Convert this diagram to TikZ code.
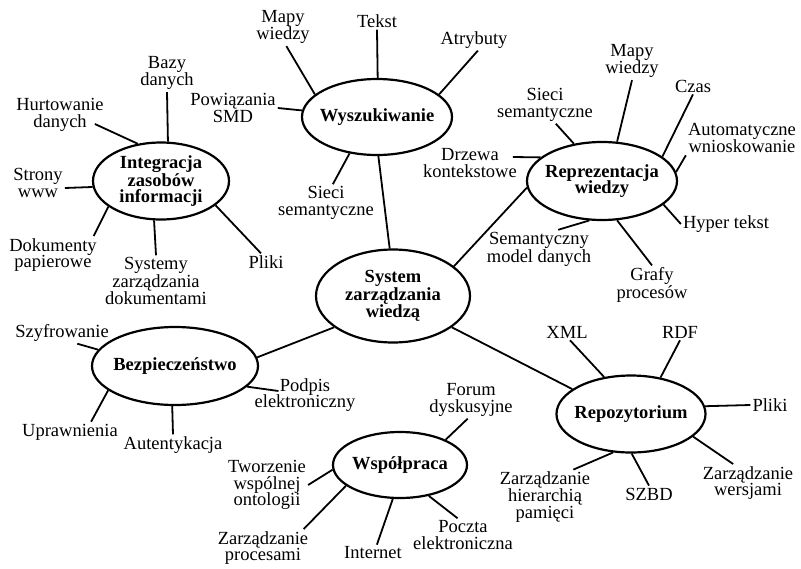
\documentclass[tikz,border=0pt]{standalone}
\usepackage{fontspec}
\setmainfont{Liberation Serif}
\usepackage{tikz}
\usetikzlibrary{shapes.geometric}
\newcommand{\mapfont}{\fontsize{18.5}{16.8}\selectfont}
\tikzstyle{topic} = [ellipse, draw=black, line width=2.2pt, font=\mapfont\bfseries, align=center, inner xsep=-8pt, inner ysep=0pt]
\tikzstyle{leaf} = [font=\mapfont, align=center, inner sep=2pt]
\tikzstyle{link} = [line width=1.8pt]

\begin{document}
\begin{tikzpicture}[x=1pt,y=-1pt]
	\useasboundingbox (0,0) rectangle (801,568);
	% glowne wezly
	\node[topic, minimum width=154pt, minimum height=93pt] (sys) at (393,296) {System\\zarządzania\\wiedzą};
	\node[topic, minimum width=150pt, minimum height=76pt] (wysz) at (377,117) {Wyszukiwanie};
	\node[topic, minimum width=136pt, minimum height=77pt] (integr) at (161,181) {Integracja\\zasobów\\informacji};
	\node[topic, minimum width=150pt, minimum height=78pt] (repr) at (602,181) {Reprezentacja\\wiedzy};
	\node[topic, minimum width=166pt, minimum height=78pt] (bezp) at (175,366) {Bezpieczeństwo};
	\node[topic, minimum width=149pt, minimum height=77pt] (repo) at (631,414) {Repozytorium};
	\node[topic, minimum width=134pt, minimum height=66pt] (wsp) at (400,465) {Współpraca};
	\draw[link] (sys.94) -- (wysz.-88);
	\draw[link] (sys.26) -- (repr.185);
	\draw[link] (sys.208) -- (bezp.6);
	\draw[link] (sys.-28) -- (repo.157);

	% wyszukiwanie
	\node[leaf] (mapyW) at (283,27) {Mapy\\wiedzy};
	\node[leaf] (tekst) at (377,21) {Tekst};
	\node[leaf] (atryb) at (474,40) {Atrybuty};
	\node[leaf] (powiaz) at (233,108) {Powiązania\\SMD};
	\node[leaf] (sieciW) at (326,203) {Sieci\\semantyczne};
	\foreach \a/\b in {wysz.160/mapyW.-80, wysz.89/tekst.south, wysz.20/atryb.-70, wysz.175/powiaz.east, wysz.233/sieciW.70}
		\draw[link] (\a) -- (\b);

	% integracja
	\node[leaf] (bazy) at (167,73) {Bazy\\danych};
	\node[leaf] (hurt) at (60,115) {Hurtowanie\\danych};
	\node[leaf] (strony) at (38,183) {Strony\\www};
	\node[leaf] (dokum) at (53,255) {Dokumenty\\papierowe};
	\node[leaf] (systemy) at (156,281) {Systemy\\zarządzania\\dokumentami};
	\node[leaf] (plikiI) at (266,262) {Pliki};
	\draw[link] (integr.122) -- ([shift={(-11,9)}]hurt.east);
	\draw[link] (integr.185) -- ([shift={(0,5)}]strony.east);
	\foreach \a/\b in {integr.80/bazy.south, integr.206/dokum.25, integr.260/systemy.north, integr.336/plikiI.120}
		\draw[link] (\a) -- (\b);

	% reprezentacja
	\node[leaf] (sieciR) at (545,105) {Sieci\\semantyczne};
	\node[leaf] (mapyR) at (632,61) {Mapy\\wiedzy};
	\node[leaf] (czas) at (693,86) {Czas};
	\node[leaf] (auto) at (742,138) {Automatyczne\\wnioskowanie};
	\node[leaf] (hyper) at (726,224) {Hyper tekst};
	\node[leaf] (grafy) at (652,285) {Grafy\\procesów};
	\node[leaf] (seman) at (539,249) {Semantyczny\\model danych};
	\node[leaf] (drzewa) at (470,163) {Drzewa\\kontekstowe};
	\draw[link] (repr.159) -- ([shift={(-6,-6)}]drzewa.east);
	\foreach \a/\b in {repr.127/sieciR.-60, repr.69/mapyR.south, repr.22/czas.south, repr.7/auto.south west, repr.339/hyper.west, repr.291/grafy.north, repr.252/seman.45}
		\draw[link] (\a) -- (\b);

	% bezpieczenstwo
	\node[leaf] (szyfr) at (62,333) {Szyfrowanie};
	\node[leaf] (podpis) at (305,395) {Podpis\\elektroniczny};
	\node[leaf] (upraw) at (70,432) {Uprawnienia};
	\node[leaf] (autent) at (173,445) {Autentykacja};
	\draw[link] (bezp.344) -- ([shift={(26,-4)}]podpis.west);
	\foreach \a/\b in {bezp.168/szyfr.-35, bezp.200/upraw.26, bezp.266/autent.north}
		\draw[link] (\a) -- (\b);

	% repozytorium
	\node[leaf] (xml) at (567,332) {XML};
	\node[leaf] (rdf) at (680,332) {RDF};
	\node[leaf] (plikiR) at (770,405) {Pliki};
	\node[leaf] (wersj) at (748,483) {Zarządzanie\\wersjami};
	\node[leaf] (szbd) at (649,494) {SZBD};
	\node[leaf] (hier) at (545,497) {Zarządzanie\\hierarchią\\pamięci};
	\foreach \a/\b in {repo.126/xml.-70, repo.51/rdf.south, repo.6/plikiR.west, repo.340/wersj.128, repo.-89/szbd.north, repo.245/hier.44}
		\draw[link] (\a) -- (\b);

	% wspolpraca
	\node[leaf] (forum) at (471,400) {Forum\\dyskusyjne};
	\node[leaf] (poczta) at (463,535) {Poczta\\elektroniczna};
	\node[leaf] (internet) at (373,553) {Internet};
	\node[leaf] (zproc) at (263,548) {Zarządzanie\\procesami};
	\node[leaf] (tworz) at (267,485) {Tworzenie\\wspólnej\\ontologii};
	\foreach \a/\b in {wsp.29/forum.-100, wsp.313/poczta.108, wsp.258/internet.65, wsp.201/zproc.25, wsp.184/tworz.east}
		\draw[link] (\a) -- (\b);
\end{tikzpicture}
\end{document}
